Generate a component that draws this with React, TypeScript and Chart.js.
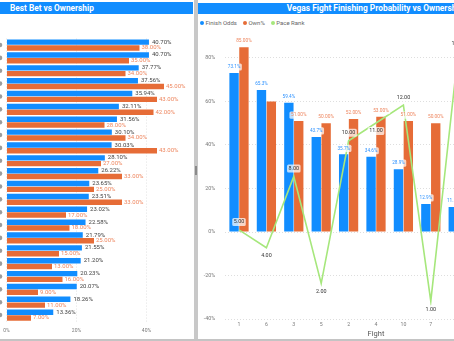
import React, { useEffect, useRef } from 'react';
import { Chart, registerables } from 'chart.js';

Chart.register(...registerables);
Chart.defaults.font.family = 'Roboto';

// ---------- Left chart: Best Bet vs Ownership ----------
const betRanks = ['1', '2', '3', '4', '5', '6', '7', '8', '9', '10', '11', '12', '13', '14', '15', '16', '17', '18', '19', '20', '21', '22'];
const bestBetPct = [40.7, 40.7, 37.77, 37.56, 35.94, 32.11, 31.56, 30.1, 30.03, 28.1, 26.22, 23.65, 23.51, 23.02, 22.58, 21.79, 21.55, 21.2, 20.23, 20.07, 18.26, 13.36];
const ownershipPct = [38, 35, 34, 45, 43, 42, 28, 34, 43, 27, 33, 25, 33, 17, 18, 25, 15, 13, 16, 9, 11, 7];
const leftAxisMax = 52;
const leftTickStep = 20;

// ---------- Right chart: Vegas Fight Finishing Probability vs Ownership ----------
const fights = ['1', '6', '3', '5', '2', '4', '10', '7', '8', '9', '11'];
const finishOddsPct = [73.1, 65.3, 59.4, 43.7, 35.7, 34.6, 28.9, 12.9, 11.5, 9.8, 7.4];
const ownPct = [85, 60, 51, 50, 52, 53, 51, 50, 48, 45, 40];
const paceRank = [5, 4, 8, 2, 10, 11, 12, 1, 15, 3, 6];
const rightAxisMin = -40;
const rightAxisMax = 90;
const rightTickStep = 20;
const paceAxisMax = 15.87;

const BLUE = '#118DFF';
const ORANGE = '#E66C37';
const GREEN = '#A6E77C';

interface LabelSpec {
  dataset: number;
  format: (v: number) => string;
  color: string;
  size: number;
  mode: 'end' | 'top' | 'point';
  gap: number;
  bg?: string;
  avoid?: boolean;
}

function overlaps(a: number[], b: number[], margin: number) {
  return b[0] < a[2] + margin && a[0] < b[2] + margin && b[1] < a[3] && a[1] < b[3];
}

function makeLabelPlugin(id: string, specs: LabelSpec[]) {
  return {
    id,
    afterDatasetsDraw(chart: any) {
      const ctx = chart.ctx as CanvasRenderingContext2D;
      const boxes: number[][] = [];
      ctx.save();
      specs.forEach((s) => {
        const meta = chart.getDatasetMeta(s.dataset);
        const values = chart.data.datasets[s.dataset].data as number[];
        meta.data.forEach((el: any, i: number) => {
          const v = values[i];
          const text = s.format(v);
          ctx.font = `${s.size}px Roboto`;
          const w = ctx.measureText(text).width;
          const h = s.size * 1.1;
          const padX = 1.5;
          const padY = 1;
          const makeBox = (cx: number, cy: number) => [cx - w / 2 - padX, cy - h / 2 - padY, cx + w / 2 + padX, cy + h / 2 + padY];
          let cx: number;
          let cy: number;
          if (s.mode === 'end') {
            cx = el.x + s.gap + w / 2;
            cy = el.y;
          } else if (s.mode === 'top') {
            cx = el.x;
            cy = el.y - s.gap;
          } else {
            cx = el.x;
            const aboveY = el.y - s.gap;
            const blocked = boxes.some((b) => overlaps(makeBox(cx, aboveY), b, 0));
            const below = (i > 0 && v < values[i - 1]) || blocked;
            cy = below ? el.y + s.gap : aboveY;
          }
          const box = makeBox(cx, cy);
          if (s.avoid && boxes.some((b) => overlaps(box, b, 1))) {
            return;
          }
          boxes.push(box);
          if (s.bg) {
            ctx.fillStyle = s.bg;
            ctx.beginPath();
            (ctx as any).roundRect(box[0], box[1], box[2] - box[0], box[3] - box[1], 1.5);
            ctx.fill();
          }
          ctx.fillStyle = s.color;
          ctx.textAlign = 'center';
          ctx.textBaseline = 'middle';
          ctx.fillText(text, cx, cy);
        });
      });
      ctx.restore();
    },
  };
}

const rowMarkerPlugin = {
  id: 'rowMarkers',
  afterDraw(chart: any) {
    const ctx = chart.ctx as CanvasRenderingContext2D;
    const y = chart.scales.y;
    ctx.save();
    ctx.fillStyle = '#9c9c9c';
    betRanks.forEach((_, i) => {
      const py = y.getPixelForValue(i);
      ctx.beginPath();
      ctx.arc(0, py, 2.3, 0, Math.PI * 2);
      ctx.fill();
    });
    ctx.restore();
  },
};

function clearScalePadding(scale: any) {
  scale.paddingLeft = 0;
  scale.paddingRight = 0;
  scale.paddingTop = 0;
  scale.paddingBottom = 0;
}

export default function App() {
  const leftRef = useRef<HTMLCanvasElement>(null);
  const rightRef = useRef<HTMLCanvasElement>(null);

  useEffect(() => {
    const left = new Chart(leftRef.current as HTMLCanvasElement, {
      type: 'bar',
      data: {
        labels: betRanks,
        datasets: [
          {
            label: 'Best Bet',
            data: bestBetPct,
            backgroundColor: BLUE,
            categoryPercentage: 0.9,
            barPercentage: 0.94,
          },
          {
            label: 'Ownership',
            data: ownershipPct,
            backgroundColor: ORANGE,
            categoryPercentage: 0.9,
            barPercentage: 0.94,
          },
        ],
      },
      options: {
        indexAxis: 'y',
        responsive: false,
        animation: false,
        layout: { autoPadding: false, padding: { left: 6.5, right: 4.5, top: 22.6, bottom: 0 } },
        plugins: { legend: { display: false }, tooltip: { enabled: false } },
        scales: {
          x: {
            min: 0,
            max: leftAxisMax,
            grid: { color: '#e2e2e2', drawTicks: false },
            border: { display: false, dash: [1, 2] },
            ticks: {
              stepSize: leftTickStep,
              includeBounds: false,
              padding: 6.5,
              color: '#7a7a7a',
              font: { size: 5 },
              callback: (v: any) => `${v}%`,
            },
            afterFit: (scale: any) => {
              scale.height = 19.5;
              clearScalePadding(scale);
            },
          },
          y: { display: false },
        },
      },
      plugins: [
        makeLabelPlugin('leftLabels', [
          { dataset: 0, format: (v) => `${v.toFixed(2)}%`, color: '#444444', size: 6, mode: 'end', gap: 3 },
          { dataset: 1, format: (v) => `${v.toFixed(2)}%`, color: '#EE8760', size: 6, mode: 'end', gap: 2 },
        ]),
        rowMarkerPlugin,
      ],
    } as any);

    const right = new Chart(rightRef.current as HTMLCanvasElement, {
      type: 'bar',
      data: {
        labels: fights,
        datasets: [
          {
            type: 'bar',
            label: 'Finish Odds',
            data: finishOddsPct,
            backgroundColor: BLUE,
            categoryPercentage: 0.72,
            barPercentage: 0.95,
            yAxisID: 'y',
            order: 1,
          },
          {
            type: 'bar',
            label: 'Own%',
            data: ownPct,
            backgroundColor: ORANGE,
            categoryPercentage: 0.72,
            barPercentage: 0.95,
            yAxisID: 'y',
            order: 1,
          },
          {
            type: 'line',
            label: 'Pace Rank',
            data: paceRank,
            borderColor: GREEN,
            backgroundColor: GREEN,
            borderWidth: 1.6,
            pointRadius: 0,
            pointHoverRadius: 0,
            tension: 0,
            yAxisID: 'y1',
            order: 0,
          },
        ],
      },
      options: {
        responsive: false,
        animation: false,
        layout: { autoPadding: false, padding: { left: 0, right: 26.3, top: 6.25, bottom: 0 } },
        plugins: { legend: { display: false }, tooltip: { enabled: false } },
        scales: {
          x: {
            grid: { display: false, drawTicks: false },
            border: { display: false },
            ticks: { padding: 3, color: '#7a7a7a', font: { size: 5.2 } },
            title: {
              display: true,
              text: 'Fight',
              color: '#555555',
              font: { size: 7.5 },
              padding: { top: 0, bottom: 2.2 },
            },
            afterFit: (scale: any) => {
              scale.height = 22;
              clearScalePadding(scale);
            },
          },
          y: {
            position: 'left',
            min: rightAxisMin,
            max: rightAxisMax,
            grid: { color: '#dedede', drawTicks: false },
            border: { display: false, dash: [1, 2] },
            ticks: {
              stepSize: rightTickStep,
              includeBounds: false,
              padding: 10,
              color: '#7a7a7a',
              font: { size: 5.4 },
              callback: (v: any) => `${v}%`,
            },
            afterFit: (scale: any) => {
              scale.width = 27.3;
              clearScalePadding(scale);
            },
          },
          y1: {
            display: false,
            position: 'right',
            min: 0,
            max: paceAxisMax,
          },
        },
      },
      plugins: [
        makeLabelPlugin('rightLabels', [
          { dataset: 0, format: (v) => `${v.toFixed(1)}%`, color: '#2E92FF', size: 4.7, mode: 'top', gap: 6, bg: 'rgba(255,255,255,0.72)', avoid: true },
          { dataset: 1, format: (v) => `${v.toFixed(2)}%`, color: '#EE8760', size: 4.8, mode: 'top', gap: 6, bg: 'rgba(255,255,255,0.72)', avoid: true },
          { dataset: 2, format: (v) => v.toFixed(2), color: '#333333', size: 5.4, mode: 'point', gap: 8, bg: 'rgba(255,255,255,0.72)' },
        ]),
      ],
    } as any);

    return () => {
      left.destroy();
      right.destroy();
    };
  }, []);

  const titleFont: React.CSSProperties = {
    fontFamily: 'Roboto',
    fontWeight: 700,
    fontSize: '8.3px',
    color: '#ffffff',
    whiteSpace: 'nowrap',
    lineHeight: '11px',
  };

  const legendItem = (color: string, text: string) => (
    <span style={{ display: 'inline-flex', alignItems: 'center', marginRight: 6 }}>
      <span
        style={{ width: 4, height: 4, borderRadius: '50%', background: color, display: 'inline-block', marginRight: 1.5 }}
      />
      <span>{text}</span>
    </span>
  );

  return (
    <div
      style={{
        position: 'fixed',
        left: 0,
        top: 0,
        width: 454,
        height: 341,
        overflow: 'hidden',
        background: '#ffffff',
      }}
    >
      {/* Left panel */}
      <div style={{ position: 'absolute', left: 0, top: 2, width: 193, height: 11.5, background: BLUE }}>
        <div style={{ ...titleFont, position: 'absolute', left: 10, top: 0.5 }}>Best Bet vs Ownership</div>
      </div>
      <div style={{ position: 'absolute', left: 0, top: 16, width: 193, height: 325 }}>
        <canvas ref={leftRef} width={193} height={325} style={{ display: 'block' }} />
      </div>

      {/* Divider */}
      <div style={{ position: 'absolute', left: 194, top: 0, width: 4, height: 341, background: '#c8c8c8' }} />
      <div style={{ position: 'absolute', left: 195, top: 166, width: 2, height: 9, background: '#8a8a8a' }} />

      {/* Right panel */}
      <div style={{ position: 'absolute', left: 198, top: 0, width: 355, height: 341 }}>
        <div style={{ position: 'absolute', left: 0, top: 3, width: 355, height: 10.5, background: BLUE }}>
          <div style={{ ...titleFont, fontSize: '8.4px', position: 'absolute', left: 88.7, top: 0 }}>
            Vegas Fight Finishing Probability vs Ownership
          </div>
        </div>
        <div
          style={{
            position: 'absolute',
            left: 2,
            top: 19,
            fontFamily: 'Roboto',
            fontSize: '6px',
            color: '#666666',
            lineHeight: '8px',
            display: 'flex',
            whiteSpace: 'nowrap',
          }}
        >
          {legendItem(BLUE, 'Finish Odds')}
          {legendItem(ORANGE, 'Own%')}
          {legendItem(GREEN, 'Pace Rank')}
        </div>
        <div style={{ position: 'absolute', left: 0, top: 30, width: 355, height: 311 }}>
          <canvas ref={rightRef} width={355} height={311} style={{ display: 'block' }} />
        </div>
      </div>

      {/* Bottom border */}
      <div style={{ position: 'absolute', left: 0, top: 339, width: 454, height: 2, background: '#c4c4c4' }} />
    </div>
  );
}
